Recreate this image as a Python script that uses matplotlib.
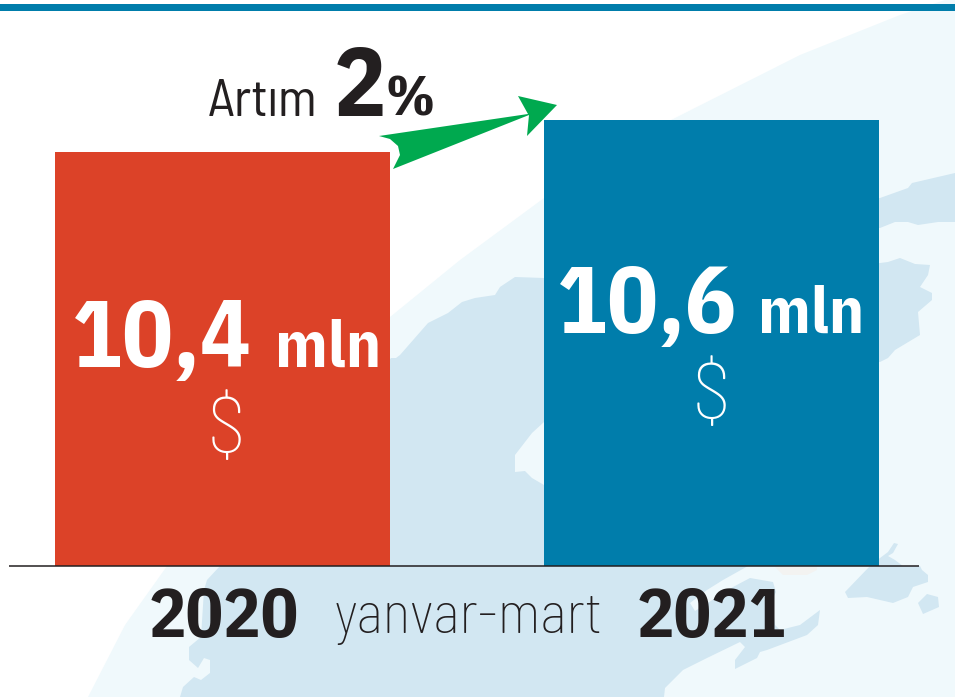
import matplotlib
matplotlib.use("Agg")
import numpy as np
import matplotlib.pyplot as plt

# Reference numbers
years = ["2020", "2021"]
values = [10.4, 10.6]
bar_colors = ["#dc4228", "#007dab"]
period = "yanvar-mart"
unit = "mln"
currency = "$"
growth_label = "Artım"
growth_big = "2"
growth_pct = "%"

BOLD = ["IBM Plex Sans Condensed", "Roboto Condensed", "Roboto", "DejaVu Sans"]
MID = ["Barlow Semi Condensed", "Roboto", "DejaVu Sans"]
DARK = "#231f20"
GLOBE = "#f0f9fc"
LAND = "#d2e7f2"

fig = plt.figure(figsize=(9.55, 6.97), dpi=100)

# fond: globe + carte, en pixels de l'image
bg = fig.add_axes([0, 0, 1, 1], zorder=0)
bg.set_xlim(0, 955)
bg.set_ylim(697, 0)
bg.axis("off")

globe = [(88, 697), (125, 625), (167, 566), (275, 440), (390, 317), (460, 260), (544, 198), (671, 120),
         (800, 55), (900, 15), (945, 0), (955, 0), (955, 697)]
land = [(180, 697), (183, 687), (194, 677), (201, 680), (210, 673), (210, 660), (204, 658), (198, 668),
        (189, 660), (189, 647), (201, 637), (204, 590), (207, 580), (220, 566), (391, 358), (396, 358),
        (400, 355), (428, 323), (448, 313), (462, 302), (475, 298), (495, 295), (500, 287), (515, 277),
        (544, 278), (880, 263), (888, 262), (900, 258), (915, 264), (930, 265), (928, 275), (920, 287),
        (932, 293), (932, 300), (918, 312), (920, 335), (895, 350), (888, 358), (880, 362), (870, 362),
        (870, 560), (748, 566), (723, 580), (707, 590), (690, 603), (695, 611), (733, 587), (750, 578),
        (773, 582), (776, 592), (772, 600), (775, 625), (780, 630), (800, 625), (820, 610), (818, 625),
        (807, 635), (767, 650), (760, 652), (757, 658), (735, 669), (735, 660), (745, 647), (740, 642),
        (707, 658), (683, 670), (665, 688), (664, 697)]
bay = [(560, 422), (544, 422), (532, 433), (515, 455), (515, 472), (525, 471), (532, 478), (544, 485), (560, 485)]
strip = [(870, 200), (880, 198), (908, 188), (912, 183), (955, 173), (955, 222), (938, 222), (918, 225),
         (908, 222), (895, 222), (880, 228), (870, 228)]
island1 = [(870, 566), (845, 592), (848, 598), (867, 597), (893, 603), (908, 597), (913, 587), (928, 582),
           (928, 575), (922, 570), (920, 566), (903, 566), (895, 560), (888, 556), (893, 553), (898, 544),
           (894, 543), (888, 552), (880, 558)]
island2 = [(918, 603), (927, 594), (938, 597), (939, 607), (923, 614)]
spot = [(775, 567), (783, 575), (807, 575), (817, 570), (817, 567)]

bg.fill(*zip(*globe), color=GLOBE, lw=0)
bg.fill(*zip(*land), color=LAND, lw=0)
bg.fill(*zip(*bay), color=GLOBE, lw=0)
bg.fill(*zip(*strip), color=LAND, lw=0)
bg.fill(*zip(*island1), color=LAND, lw=0)
bg.fill(*zip(*island2), color=LAND, lw=0)
bg.fill(*zip(*spot), color="#f3f3f1", lw=0)

# bande du haut
bg.fill([0, 955, 955, 0], [3.5, 3.5, 11, 11], color="#007dab", lw=0)

# barres (l'axe y ne part pas de zero, comme sur l'original)
base = 10.4 - 414 / 160
ax = fig.add_axes([0, 0, 1, 1], zorder=1)
ax.patch.set_alpha(0)
ax.axis("off")
ax.set_xlim(-222.5 / 489, (955 - 222.5) / 489)
ax.set_ylim(base - 131 / 160, base + 566 / 160)
x = np.arange(len(values))
ax.bar(x, np.array(values) - base, bottom=base, width=335 / 489, color=bar_colors, lw=0)

# ligne de base
ov = fig.add_axes([0, 0, 1, 1], zorder=2)
ov.patch.set_alpha(0)
ov.set_xlim(0, 955)
ov.set_ylim(697, 0)
ov.axis("off")
ov.plot([9, 919], [566, 566], color=DARK, lw=1.1, solid_capstyle="butt")

# fleche verte
arrow = [(379, 136), (390, 139), (398, 146), (400, 155), (393, 169), (529, 115), (527, 136), (557, 105),
         (518, 96), (528, 114)]
ov.fill(*zip(*arrow), color="#00a94f", lw=0)

# textes
for i, (num_x, mln_x, dollar_x, y0) in enumerate([(72, 275, 226, 367), (557, 758, 711, 333)]):
    ov.text(num_x, y0, f"{values[i]:.1f}".replace(".", ","), family=BOLD, weight="bold", fontsize=68,
            color="white", va="baseline", ha="left")
    ov.text(mln_x, y0, unit, family=BOLD, weight="bold", fontsize=47, color="white", va="baseline", ha="left")
    ov.text(dollar_x, y0 + 85, currency, family=MID, weight="light", fontsize=56, color="white",
            va="baseline", ha="center")

ov.text(149, 637, years[0], family=BOLD, weight="bold", fontsize=50, color=DARK, va="baseline", ha="left")
ov.text(637, 637, years[1], family=BOLD, weight="bold", fontsize=50, color=DARK, va="baseline", ha="left")
ov.text(335, 633, period, family=MID, weight="light", fontsize=42, color=DARK, va="baseline", ha="left")

ov.text(208, 116, growth_label, family=MID, weight="normal", fontsize=38, color=DARK, va="baseline", ha="left")
ov.text(334, 116, growth_big, family=BOLD, weight="bold", fontsize=70, color=DARK, va="baseline", ha="left")
ov.text(385, 116, growth_pct, family=BOLD, weight="bold", fontsize=40, color=DARK, va="baseline", ha="left")

fig.savefig("out.png", dpi=100)
